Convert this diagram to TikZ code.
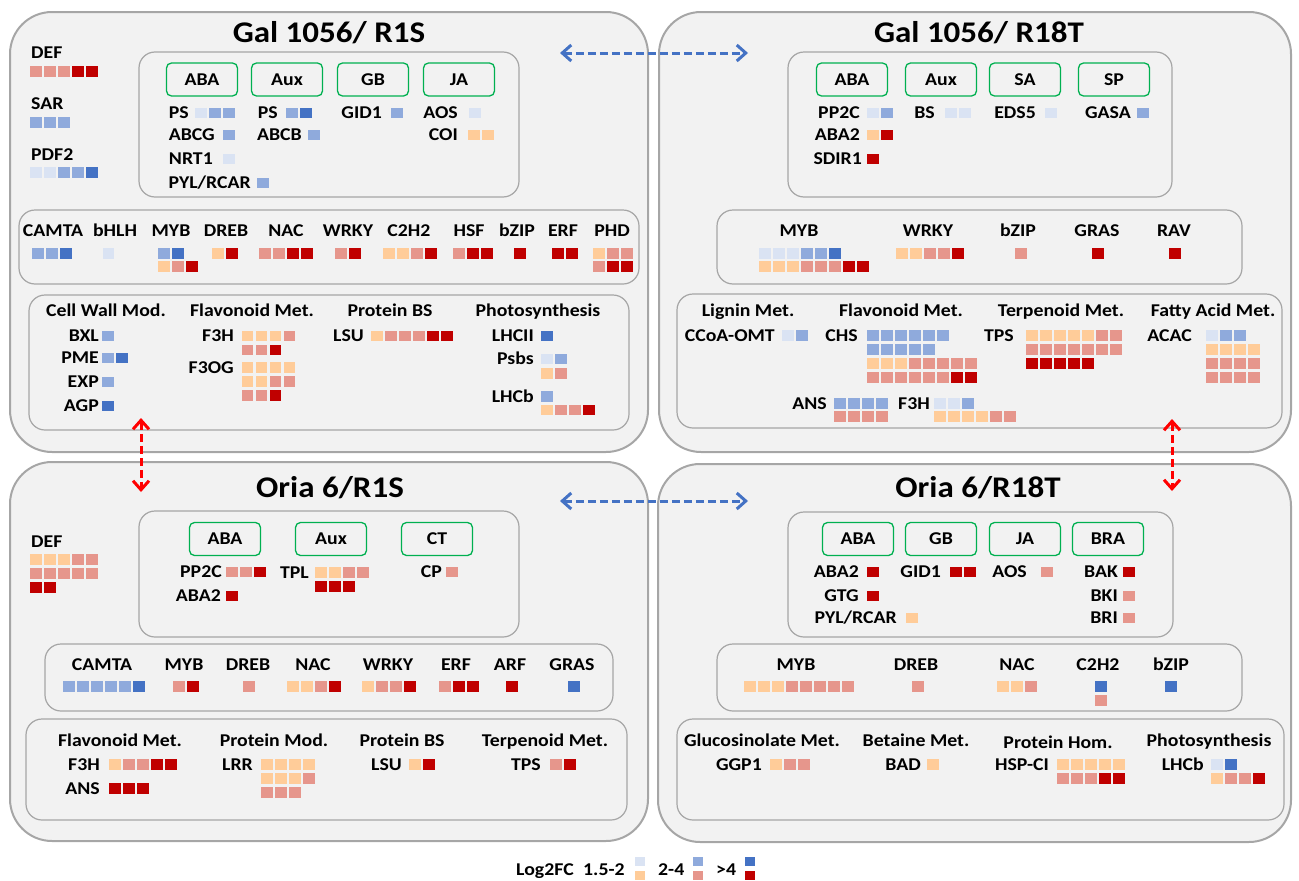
\documentclass[tikz,border=0pt]{standalone}
\usepackage{fontspec}
\setmainfont{Carlito}[FakeStretch=1.1]
\usetikzlibrary{arrows.meta}
\definecolor{bL}{HTML}{DAE3F3}
\definecolor{bM}{HTML}{8FAADC}
\definecolor{bD}{HTML}{4472C4}
\definecolor{rL}{HTML}{FFCC99}
\definecolor{rM}{HTML}{E6968C}
\definecolor{rD}{HTML}{C00000}
\definecolor{panelbg}{HTML}{F2F2F2}
\definecolor{edge}{HTML}{A6A6A6}
\definecolor{hgreen}{HTML}{00B050}
\definecolor{arblue}{HTML}{4472C4}
\definecolor{arred}{HTML}{FF0000}
\newcommand{\lbl}{\bfseries\fontsize{18pt}{21pt}\selectfont}
% one row of fold-change squares: left x, top y, colours
\newcommand{\fcrow}[3]{\foreach \col [count=\i from 0] in {#3}
  {\fill[\col] ({#1+14*\i},{#2}) rectangle ++(11.5,10.8);}}
% gene label (right end x, centre y) followed by its first row of squares
\newcommand{\gene}[6]{\node[gene, anchor=east] (#1) at (#2,#3) {#4};
  \fcrow{#5}{#3-5.4}{#6}}

\begin{document}
\begin{tikzpicture}[x=1pt, y=-1pt,
  panel/.style={draw=edge, line width=2pt, fill=panelbg, rounded corners=42pt},
  inbox/.style={draw=edge, line width=1.2pt, rounded corners=16pt},
  hbox/.style={draw=hgreen, line width=1.3pt, rounded corners=5pt, font=\lbl,
    minimum width=71pt, minimum height=33pt, inner sep=0pt},
  gene/.style={font=\lbl, inner sep=0pt, text height=11.5pt, text depth=0pt},
  ttl/.style={font=\bfseries\fontsize{30pt}{34pt}\selectfont, inner sep=0pt,
    text height=19.4pt, text depth=0pt},
  cmp/.style={line width=3pt, dash pattern=on 8pt off 4pt,
    {Straight Barb[length=9pt,width=16pt]}-{Straight Barb[length=9pt,width=16pt]}}]
\useasboundingbox (0,0) rectangle (1299,881);

% Gal 1056 / R1S
\draw[panel] (10,12) rectangle (648,452);
\node[ttl] (a-t) at (329,33) {Gal 1056/ R1S};
\node[gene, anchor=west] (a-def) at (31,53) {DEF};
\fcrow{30}{66}{rM,rM,rM,rD,rD}
\node[gene, anchor=west] (a-sar) at (31,104) {SAR};
\fcrow{30}{117}{bM,bM,bM}
\node[gene, anchor=west] (a-pdf) at (31,155) {PDF2};
\fcrow{30}{167}{bL,bL,bM,bM,bD}
\draw[inbox] (139,52) rectangle (519,197);
\foreach \n/\x/\t in {aba/202/ABA, aux/287/Aux, gb/373/GB, ja/459/JA}
  \node[hbox] (a-\n) at (\x,79.5) {\t};
\gene{a-ps1}{189}{113}{PS}{195}{bL,bM,bM}
\gene{a-abcg}{215}{135}{ABCG}{223}{bM}
\gene{a-nrt}{213}{159}{NRT1}{223}{bL}
\gene{a-pyl}{251}{183}{PYL/RCAR}{257}{bM}
\gene{a-ps2}{278}{113}{PS}{286}{bM,bD}
\gene{a-abcb}{302}{135}{ABCB}{308}{bM}
\gene{a-gid}{382}{113}{GID1}{391}{bM}
\gene{a-aos}{458}{113}{AOS}{469}{bL}
\gene{a-coi}{458}{135}{COI}{468}{rL,rL}
\draw[inbox] (19,210) rectangle (639,284);
\foreach \n/\x in {CAMTA/53, bHLH/115, MYB/171, DREB/226, NAC/286, WRKY/348,
  C2H2/409, HSF/469, bZIP/517, ERF/563, PHD/612}
  \node[gene] (a-\n) at (\x,231) {\n};
\fcrow{32}{248}{bM,bM,bD}
\fcrow{102.5}{248}{bL}
\fcrow{158}{248}{bM,bD}
\fcrow{158}{261}{rL,rM,rD}
\fcrow{212}{248}{rL,rD}
\fcrow{259}{248}{rM,rM,rD,rD}
\fcrow{335}{248}{rM,rD}
\fcrow{383}{248}{rL,rL,rM,rD}
\fcrow{453}{248}{rM,rD,rD}
\fcrow{514}{248}{rD}
\fcrow{552}{248}{rD,rD}
\fcrow{593}{248}{rL,rM,rM}
\fcrow{593}{261}{rM,rD,rD}
\draw[inbox] (29,295) rectangle (629,430);
\foreach \n/\x/\t in {cw/106/Cell Wall Mod., fl/252/Flavonoid Met.,
  bs/390/Protein BS, ph/538/Photosynthesis}
  \node[gene] (a-\n) at (\x,311) {\t};
\gene{a-bxl}{99}{336}{BXL}{102}{bM}
\gene{a-pme}{99}{358}{PME}{102}{bM,bD}
\gene{a-exp}{99}{382}{EXP}{102}{bM}
\gene{a-agp}{99}{406}{AGP}{102}{bD}
\gene{a-f3h}{234}{336}{F3H}{241.5}{rL,rL,rL,rM}
\fcrow{241.5}{344.5}{rM,rM,rD}
\gene{a-f3og}{234}{367.5}{F3OG}{241.5}{rL,rL,rL,rL}
\fcrow{241.5}{376}{rL,rL,rM,rM}
\fcrow{241.5}{390}{rM,rM,rD}
\gene{a-lsu}{364}{336}{LSU}{371}{rL,rM,rM,rM,rD,rD}
\gene{a-lhcii}{534}{336}{LHCII}{541}{bD}
\gene{a-psbs}{534}{359}{Psbs}{541}{bL,bM}
\fcrow{541}{368}{rL,rM}
\gene{a-lhcb}{534}{396.5}{LHCb}{541}{bM}
\fcrow{541}{404.5}{rL,rM,rM,rD}

% Gal 1056 / R18T
\draw[panel] (659,12) rectangle (1291,452);
\node[ttl] (b-t) at (979,33) {Gal 1056/ R18T};
\draw[inbox] (788,52) rectangle (1172,197);
\foreach \n/\x/\t in {aba/852/ABA, aux/941/Aux, sa/1025/SA, sp/1114/SP}
  \node[hbox] (b-\n) at (\x,79.5) {\t};
\gene{b-pp2c}{860}{113}{PP2C}{867}{bL,bM}
\gene{b-aba2}{860}{135}{ABA2}{867}{rL,rD}
\gene{b-sdir}{862}{159}{SDIR1}{867}{rD}
\gene{b-bs}{935}{113}{BS}{945}{bL,bL}
\gene{b-eds}{1036}{113}{EDS5}{1045}{bL}
\gene{b-gasa}{1131}{113}{GASA}{1137}{bM}
\draw[inbox] (717,210) rectangle (1242,284);
\foreach \n/\x in {MYB/799, WRKY/928, bZIP/1018, GRAS/1097, RAV/1174}
  \node[gene] (b-\n) at (\x,231) {\n};
\fcrow{759}{248}{bL,bL,bL,bM,bM,bD}
\fcrow{759}{261}{rL,rL,rL,rM,rM,rM,rD,rD}
\fcrow{896}{248}{rL,rL,rM,rM,rD}
\fcrow{1015}{248}{rM}
\fcrow{1092}{248}{rD}
\fcrow{1169}{248}{rD}
\draw[inbox] (677,294) rectangle (1282,428);
\foreach \n/\x/\t in {lg/748/Lignin Met., fl/901/Flavonoid Met.,
  tp/1061/Terpenoid Met., fa/1213/Fatty Acid Met.}
  \node[gene] (b-\n) at (\x,311) {\t};
\gene{b-ccoa}{775}{335.4}{CCoA-OMT}{782}{bL,bM}
\gene{b-chs}{858}{335.4}{CHS}{867}{bM,bM,bM,bM,bM,bM}
\fcrow{867}{344}{bM,bM,bM,bM,bM}
\fcrow{867}{358}{rL,rL,rL,rM,rM,rM,rM,rM}
\fcrow{867}{372}{rM,rM,rM,rM,rM,rM,rD,rD}
\gene{b-tps}{1014}{335.4}{TPS}{1026}{rL,rL,rL,rL,rL,rM,rM}
\fcrow{1026}{344}{rM,rM,rM,rM,rM,rM,rM}
\fcrow{1026}{358}{rD,rD,rD,rD,rD}
\gene{b-acac}{1192}{335.4}{ACAC}{1206}{bL,bM,bM}
\fcrow{1206}{344}{rL,rL,rL,rL}
\fcrow{1206}{358}{rM,rM,rM,rM}
\fcrow{1206}{372}{rM,rM,rM,rM}
\gene{b-ans}{827}{403.4}{ANS}{834}{bM,bM,bM,bM}
\fcrow{834}{411}{rM,rM,rM,rM}
\gene{b-f3h}{930}{403.4}{F3H}{934}{bL,bL,bM}
\fcrow{934}{411}{rL,rL,rL,rL,rM,rM}

% Oria 6 / R1S
\draw[panel] (10,462) rectangle (648,841);
\node[ttl] (c-t) at (330,488) {Oria 6/R1S};
\node[gene, anchor=west] (c-def) at (31,542) {DEF};
\fcrow{30}{554}{rL,rL,rL,rM,rM}
\fcrow{30}{568}{rM,rM,rM,rM,rM}
\fcrow{30}{582}{rD,rD}
\draw[inbox] (139,511) rectangle (519,637);
\foreach \n/\x/\t in {aba/225/ABA, aux/331/Aux, ct/437/CT}
  \node[hbox] (c-\n) at (\x,539) {\t};
\gene{c-pp2c}{222}{572}{PP2C}{226}{rM,rM,rD}
\gene{c-aba2}{221}{596}{ABA2}{226}{rD}
\gene{c-tpl}{309}{572.4}{TPL}{315}{rL,rL,rM,rM}
\fcrow{315}{581}{rD,rD,rD}
\gene{c-cp}{442}{572}{CP}{446}{rM}
\draw[inbox] (45,644) rectangle (613,711);
\foreach \n/\x in {CAMTA/102, MYB/184, DREB/248, NAC/313, WRKY/388, ERF/456,
  ARF/510, GRAS/572}
  \node[gene] (c-\n) at (\x,665) {\n};
\fcrow{63}{681}{bM,bM,bM,bM,bM,bD}
\fcrow{173}{681}{rM,rD}
\fcrow{243}{681}{rM}
\fcrow{287}{681}{rL,rL,rM,rD}
\fcrow{362}{681}{rL,rM,rM,rD}
\fcrow{439}{681}{rM,rD,rD}
\fcrow{506}{681}{rD}
\fcrow{568}{681}{bD}
\draw[inbox] (26,719) rectangle (627,820);
\foreach \n/\x/\t in {fl/120/Flavonoid Met., pm/274/Protein Mod.,
  bs/402/Protein BS, tp/545/Terpenoid Met.}
  \node[gene] (c-\n) at (\x,741) {\t};
\gene{c-f3h}{100}{764.4}{F3H}{109}{rL,rM,rM,rD,rD}
\gene{c-ans}{100}{788.4}{ANS}{109}{rD,rD,rD}
\gene{c-lrr}{253}{764.4}{LRR}{261}{rL,rL,rL,rL}
\fcrow{261}{773}{rL,rL,rL,rM}
\fcrow{261}{787}{rM,rM,rM}
\gene{c-lsu}{402}{764.4}{LSU}{409}{rL,rD}
\gene{c-tps}{541}{764.4}{TPS}{550}{rM,rD}

% Oria 6 / R18T
\draw[panel] (658,464) rectangle (1291,842);
\node[ttl] (d-t) at (978,488) {Oria 6/R18T};
\draw[inbox] (788,512) rectangle (1173,637);
\foreach \n/\x/\t in {aba/858/ABA, gb/941/GB, ja/1025/JA, bra/1108/BRA}
  \node[hbox] (d-\n) at (\x,539) {\t};
\gene{d-aba2}{859}{572}{ABA2}{867}{rD}
\gene{d-gtg}{859}{596}{GTG}{867}{rD}
\gene{d-pyl}{897}{618}{PYL/RCAR}{906}{rL}
\gene{d-gid}{941}{572}{GID1}{950}{rD,rD}
\gene{d-aos}{1027}{572}{AOS}{1041}{rM}
\gene{d-bak}{1118}{572}{BAK}{1123}{rD}
\gene{d-bki}{1118}{596}{BKI}{1123}{rM}
\gene{d-bri}{1118}{618}{BRI}{1123}{rM}
\draw[inbox] (717,644) rectangle (1242,711);
\foreach \n/\x in {MYB/796, DREB/916, NAC/1017, C2H2/1098, bZIP/1171}
  \node[gene] (d-\n) at (\x,665) {\n};
\fcrow{744}{681}{rL,rL,rL,rM,rM,rM,rM,rM}
\fcrow{912}{681}{rM}
\fcrow{997}{681}{rL,rL,rM}
\fcrow{1095}{681}{bD}
\fcrow{1095}{695}{rM}
\fcrow{1165}{681}{bD}
\draw[inbox] (677,719) rectangle (1284,820);
\foreach \n/\x/\y/\t in {gs/762/741/Glucosinolate Met., bt/916/741/Betaine Met.,
  ph/1058/743/Protein Hom., ps/1209/741/Photosynthesis}
  \node[gene] (d-\n) at (\x,\y) {\t};
\gene{d-ggp}{762}{764.4}{GGP1}{770}{rL,rM,rM}
\gene{d-bad}{921}{764.4}{BAD}{927}{rL}
\gene{d-hsp}{1049}{764.4}{HSP-CI}{1057}{rL,rL,rL,rL,rL}
\fcrow{1057}{773}{rM,rM,rM,rD,rD}
\gene{d-lhcb}{1204}{764.4}{LHCb}{1211}{bL,bD}
\fcrow{1211}{773}{rL,rM,rM,rD}

% comparison arrows
\coordinate (h1a) at (560,53);  \coordinate (h1b) at (748,53);
\coordinate (h2a) at (560,501); \coordinate (h2b) at (748,501);
\coordinate (v1a) at (141,418); \coordinate (v1b) at (141,492);
\coordinate (v2a) at (1172,419); \coordinate (v2b) at (1172,491);
\draw[cmp, arblue] (h1a) -- (h1b);
\draw[cmp, arblue] (h2a) -- (h2b);
\draw[cmp, arred] (v1a) -- (v1b);
\draw[cmp, arred] (v2a) -- (v2b);

% legend
\node[gene, anchor=west] (lg) at (516,870) {Log2FC};
\node[gene, anchor=west] (lg1) at (583,870) {1.5-2};
\node[gene, anchor=west] (lg2) at (658,870) {2-4};
\node[gene, anchor=west] (lg3) at (716,870) {>4};
\foreach \x/\u/\l in {635/bL/rL, 693/bM/rM, 745/bD/rD} {
  \fill[\u] (\x,857) rectangle ++(10,9);
  \fill[\l] (\x,871) rectangle ++(10,9);
}
\end{tikzpicture}
\end{document}
